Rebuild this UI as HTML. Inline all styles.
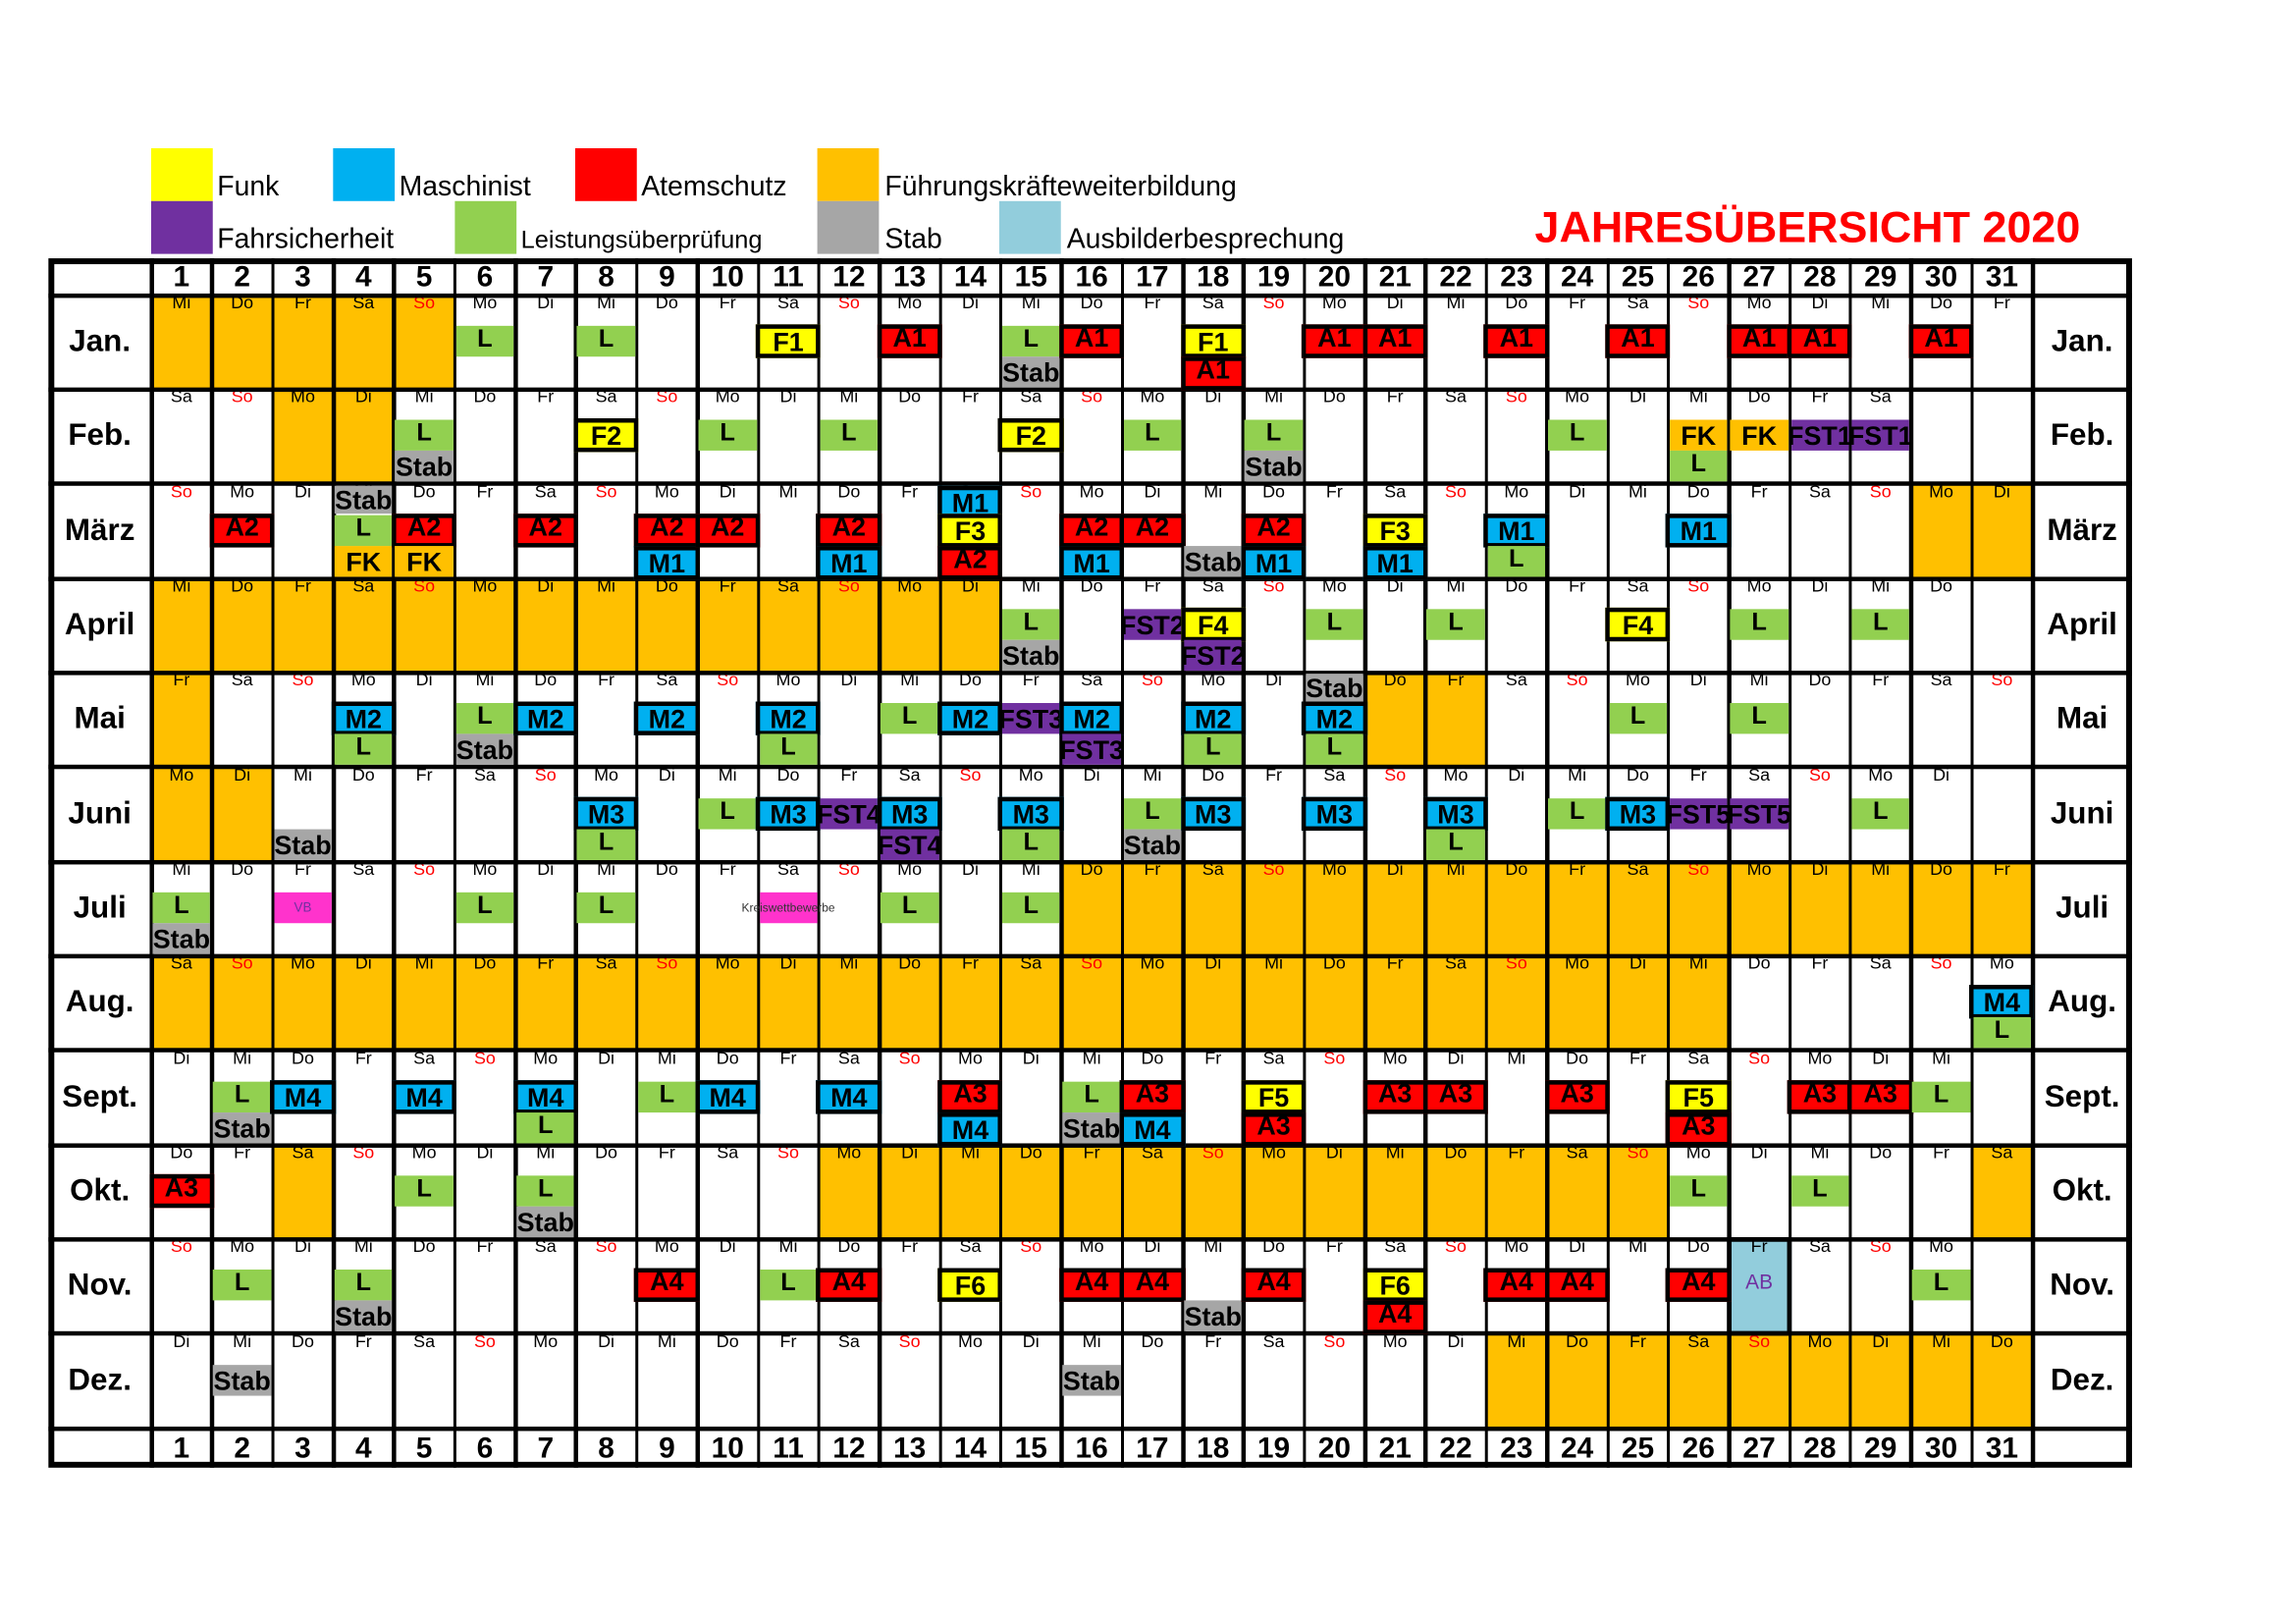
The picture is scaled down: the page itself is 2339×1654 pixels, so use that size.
<!DOCTYPE html>
<html><head><meta charset="utf-8">
<style>
html,body{margin:0;padding:0;background:#fff;width:2339px;height:1654px;overflow:hidden}
#w{position:absolute;left:0;top:0;width:1550px;height:1096px;transform-origin:0 0;transform:scale(1.4948,1.4948);font-family:"Liberation Sans",Arial,sans-serif}
#w div{position:absolute;box-sizing:border-box}
.t{white-space:nowrap;text-align:center;overflow:visible}
</style></head><body><div id="w"></div>
<script>
var W=document.getElementById('w'),h='';
function d(x,y,w,hh,st,txt){h+='<div style="left:'+x+'px;top:'+y+'px;width:'+w+'px;height:'+hh+'px;'+(st||'')+'">'+(txt===undefined?'':txt)+'</div>';}
var C={F:'#FFFF00',M:'#00B0F0',A:'#FF0000',O:'#FFC000',P:'#7030A0',L:'#92D050',S:'#A6A6A6',AB:'#92CDDC',V:'#FF33CC'};
var leg=[[103,101,C.F,'Funk',148,19],[227,101,C.M,'Maschinist',272,19],[392,101,C.A,'Atemschutz',437,19],[557,101,C.O,'Führungskräfteweiterbildung',603,19],
[103,137,C.P,'Fahrsicherheit',148,19],[310,137,C.L,'Leistungsüberprüfung',355,17],[557,137,C.S,'Stab',603,19],[681,137,C.AB,'Ausbilderbesprechung',727,19]];
leg.forEach(function(l){d(l[0],l[1],42,36,'background:'+l[2]);d(l[4],l[1]+(l[1]==101?15:15),320,24,'font-size:'+l[5]+'px;line-height:24px;color:#000;white-space:nowrap',l[3]);});
d(1046,139,420,34,'font-size:30px;font-weight:bold;color:#FF0000;line-height:34px;white-space:nowrap','JAHRESÜBERSICHT 2020');
var X0=103,CW=(1385-103)/31,Y0=201,RH=(973-201)/12;
function cx(c){return X0+(c-1)*CW;}function ry(m){return Y0+m*RH;}
var months=['Jan.','Feb.','März','April','Mai','Juni','Juli','Aug.','Sept.','Okt.','Nov.','Dez.'];
var mlen=[31,29,31,30,31,30,31,31,30,31,30,31];
var dn=['So','Mo','Di','Mi','Do','Fr','Sa'];
var orange={0:[[1,5]],1:[[3,4]],2:[[30,31]],3:[[1,14]],4:[[1,1],[21,22]],5:[[1,2]],6:[[16,31]],7:[[1,26]],9:[[3,3],[12,25],[31,31]],11:[[23,31]]};
for(var m in orange)orange[m].forEach(function(r){d(cx(r[0]),ry(+m),CW*(r[1]-r[0]+1),RH,'background:'+C.O);});
d(cx(27)-1.5,ry(10)-1,CW+3,RH+2,'background:'+C.AB+';border:3px solid #000');
d(cx(27),ry(10)+18,CW,22,'color:#7030A0;font-size:14px;line-height:22px;text-align:center','AB');
for(var mi=0;mi<12;mi++){for(var dd=1;dd<=mlen[mi];dd++){var wd=new Date(2020,mi,dd).getDay();
d(cx(dd),ry(mi)-2,CW,14,'font-size:12px;line-height:14px;text-align:center;color:'+(wd==0?'#FF0000':'#000'),dn[wd]);}}
for(var c=1;c<=31;c++){d(cx(c),177,CW,24,'font-size:20px;font-weight:bold;line-height:25px;text-align:center',c);d(cx(c),974,CW,26,'font-size:20px;font-weight:bold;line-height:27px;text-align:center',c);}
months.forEach(function(n,i){d(33,ry(i),70,RH,'font-size:21px;font-weight:bold;line-height:'+RH+'px;text-align:center',n);d(1385,ry(i),68,RH,'font-size:21px;font-weight:bold;line-height:'+RH+'px;text-align:center',n);});
d(103-1,176,2.5,824,'background:#000');
for(c=1;c<=31;c++)d(cx(c+1)-1,176,2.5,824,'background:#000');
d(33,176,1420,824,'border:4px solid #000');
d(33,199.5,1420,3,'background:#000');
for(m=1;m<=12;m++)d(33,ry(m)-1.5,1420,3,'background:#000');
d(cx(27)-1.5,ry(10)-1,CW+3,RH+2,'border:3px solid #000');
var ev={
0:'L6m L8m F1:11m A1:13m L15m S15l A1:16m F1:18m A1:18l A1:20m A1:21m A1:23m A1:25m A1:27m A1:28m A1:30m',
1:'L5m S5l F2:8m L10m L12m F2:15m L17m L19m S19l L24m K26m L26l K27m P1:28m P1:29m',
2:'A2:2m S4u L4m K4l A2:5m K5l A2:7m A2:9m M1:9l A2:10m A2:12m M1:12l M1:14u F3:14m A2:14l A2:16m M1:16l A2:17m S18l A2:19m M1:19l F3:21m M1:21l M1:23m L23l M1:26m',
3:'L15m S15l P2:17m F4:18m P2:18l L20m L22m F4:25m L27m L29m',
4:'M2:4m L4l L6m S6l M2:7m M2:9m M2:11m L11l L13m M2:14m P3:15m M2:16m P3:16l M2:18m L18l S20u M2:20m L20l L25m L27m',
5:'S3l M3:8m L8l L10m M3:11m P4:12m M3:13m P4:13l M3:15m L15l L17m S17l M3:18m M3:20m M3:22m L22l L24m M3:25m P5:26m P5:27m L29m',
6:'L1m S1l L6m L8m L13m L15m',
7:'M4:31m L31l',
8:'L2m S2l M4:3m M4:5m M4:7m L7l L9m M4:10m M4:12m A3:14m M4:14l L16m S16l A3:17m M4:17l F5:19m A3:19l A3:21m A3:22m A3:24m F5:26m A3:26l A3:28m A3:29m L30m',
9:'A3:1m L5m L7m S7l L26m L28m',
10:'L2m L4m S4l A4:9m L11m A4:12m F6:14m A4:16m A4:17m S18l A4:19m F6:21m A4:21l A4:23m A4:24m A4:26m L30m',
11:'S2m S16m'};
var slotY={u:1,m:20,l:42};
for(m in ev){var R=ry(+m);ev[m].split(' ').forEach(function(e){
 var s=e.slice(-1),b=e.slice(0,-1),col,typ,txt,bordered=false;
 if(b.indexOf(':')>0){var p=b.split(':');col=+p[1];typ=p[0][0];txt=p[0];bordered=(typ!='P');if(typ=='P')txt='FST'+p[0][1];}
 else{typ=b[0];col=+b.slice(1);txt={L:'L',S:'Stab',K:'FK'}[typ];}
 var x=cx(col),y=R+slotY[s];
 var bg={F:C.F,M:C.M,A:C.A,L:C.L,S:C.S,K:C.O,P:C.P}[typ];
 var fs=typ=='L'?17:18;
 if(bordered){d(x-1.5,y,CW+3,23,'background:'+bg+';border:3px solid #000;font-size:18px;font-weight:bold;line-height:'+(typ=='A'?13:18)+'px;text-align:center;white-space:nowrap;color:#000',txt);}
 else{var hh=s=='u'?19:21;d(x+1,y+(s=='m'?1:0),CW-2,hh,'background:'+bg+';font-size:'+fs+'px;font-weight:bold;line-height:'+(typ=='L'?17:hh+1)+'px;text-align:center;white-space:nowrap;color:#000;display:flex;justify-content:center','<span style="position:static">'+txt+'</span>');}
});}
d(cx(3)+1,ry(6)+21,CW-2,21,'background:'+C.V+';font-size:9px;line-height:21px;text-align:center;color:#7030A0','VB');
d(cx(11)+1,ry(6)+21,CW-2,21,'background:'+C.V);
d(cx(11)-30,ry(6)+21,CW+60,21,'font-size:8px;line-height:21px;text-align:center;color:#333;white-space:nowrap','Kreiswettbewerbe');
W.innerHTML=h;
</script></body></html>
